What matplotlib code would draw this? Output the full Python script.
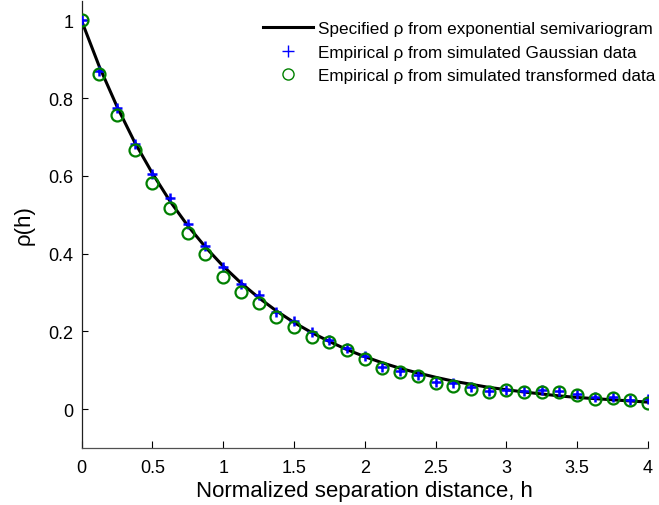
import matplotlib
matplotlib.use("Agg")
import matplotlib.pyplot as plt
from matplotlib.lines import Line2D

# separation distances (normalized)
h = [i * 0.125 for i in range(33)]

# specified correlation from exponential semivariogram
rho_spec = [1.000, 0.882, 0.779, 0.687, 0.607, 0.535, 0.472, 0.417, 0.368,
            0.325, 0.287, 0.253, 0.223, 0.197, 0.174, 0.153, 0.135, 0.119,
            0.105, 0.093, 0.082, 0.072, 0.064, 0.056, 0.050, 0.044, 0.039,
            0.034, 0.030, 0.027, 0.024, 0.021, 0.018]

# empirical correlation, simulated Gaussian data
rho_gauss = [1.000, 0.871, 0.775, 0.683, 0.606, 0.543, 0.476, 0.419, 0.366,
             0.323, 0.293, 0.251, 0.227, 0.198, 0.177, 0.158, 0.136, 0.109,
             0.098, 0.087, 0.070, 0.066, 0.057, 0.047, 0.049, 0.046, 0.049,
             0.046, 0.038, 0.030, 0.030, 0.023, 0.025]

# empirical correlation, simulated transformed data
rho_trans = [1.000, 0.861, 0.756, 0.666, 0.582, 0.518, 0.454, 0.398, 0.340,
             0.302, 0.273, 0.236, 0.211, 0.185, 0.173, 0.153, 0.130, 0.106,
             0.096, 0.086, 0.066, 0.060, 0.051, 0.045, 0.049, 0.045, 0.045,
             0.043, 0.036, 0.025, 0.029, 0.023, 0.016]

xticks = [0, 0.5, 1, 1.5, 2, 2.5, 3, 3.5, 4]
xtick_labels = ["0", "0.5", "1", "1.5", "2", "2.5", "3", "3.5", "4"]
yticks = [0, 0.2, 0.4, 0.6, 0.8, 1]
ytick_labels = ["0", "0.2", "0.4", "0.6", "0.8", "1"]

labels = ["Specified \u03c1 from exponential semivariogram",
          "Empirical \u03c1 from simulated Gaussian data",
          "Empirical \u03c1 from simulated transformed data"]

plt.rcParams['font.family'] = ['Liberation Sans', 'DejaVu Sans']

W, H = 659, 506
fig = plt.figure(figsize=(W / 100, H / 100), dpi=100)
left, right, bottom, top = 81.5, 648, 449, 2
ax = fig.add_axes([left / W, (H - bottom) / H, (right - left) / W, (bottom - top) / H])

green = (0, 0.5, 0)
ax.plot(h, rho_spec, color='black', lw=2.2, zorder=2)
ax.plot(h, rho_gauss, linestyle='none', marker='+', color='blue',
        markersize=7.5, markeredgewidth=1.8, zorder=3)
ax.plot(h, rho_trans, linestyle='none', marker='o', markerfacecolor='none',
        markeredgecolor=green, markersize=8.6, markeredgewidth=1.6, zorder=4)

ax.set_xlim(0, 4)
ax.set_ylim(-0.1, 1.05)
ax.set_xticks(xticks)
ax.set_xticklabels(xtick_labels)
ax.set_yticks(yticks)
ax.set_yticklabels(ytick_labels)
ax.tick_params(axis='x', direction='in', length=5, width=0.8, labelsize=13, pad=8)
ax.tick_params(axis='y', direction='in', length=4, width=0.8, labelsize=13, pad=6)
for s in ['top', 'right']:
    ax.spines[s].set_visible(False)
ax.spines['left'].set_linewidth(0.9)
ax.spines['left'].set_color('#202020')
ax.spines['bottom'].set_linewidth(0.9)
ax.spines['bottom'].set_color('#505050')

ax.set_xlabel("Normalized separation distance, h", fontsize=16, labelpad=3)
ax.set_ylabel("\u03c1(h)", fontsize=16, labelpad=10)

handles = [
    Line2D([], [], color='black', lw=2.2),
    Line2D([], [], linestyle='none', marker='+', color='blue', markersize=8,
           markeredgewidth=1),
    Line2D([], [], linestyle='none', marker='o', markerfacecolor='none',
           markeredgecolor=green, markersize=8, markeredgewidth=1),
]
leg = fig.legend(handles, labels, loc='upper left', frameon=False,
                 fontsize=12.3, handlelength=2.9, handletextpad=0.3,
                 labelspacing=0.5, borderpad=0, borderaxespad=0,
                 bbox_to_anchor=(263 / W, 1 - 22 / H))

fig.savefig("out.png", dpi=100)
